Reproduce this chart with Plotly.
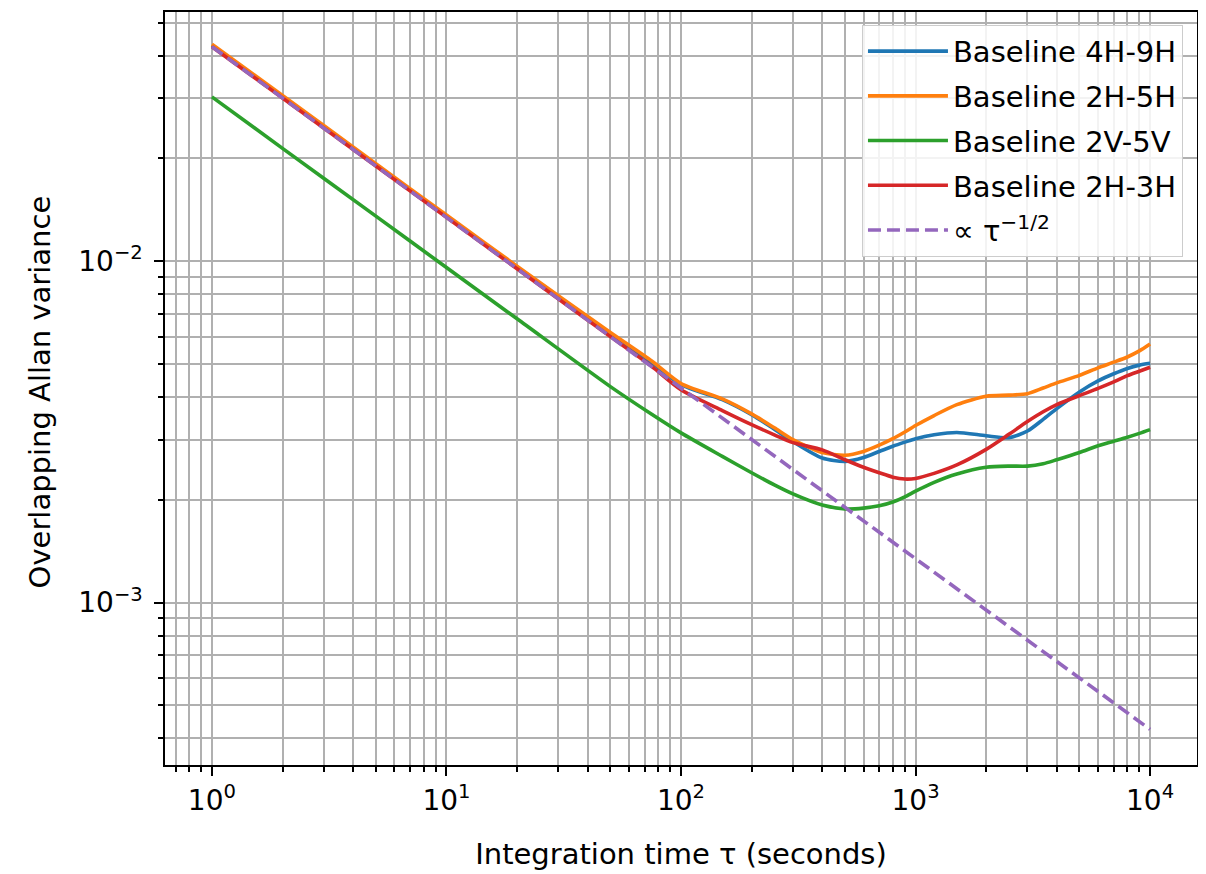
import plotly.graph_objects as go

tau = [1, 2, 5, 10, 20, 50, 75, 100, 150, 200, 250, 300, 400, 500, 600, 700, 800, 900, 1000,
       1200, 1500, 2000, 2500, 3000, 3500, 4000, 5000, 6000, 7000, 8000, 9000, 10000]

blue_4h9h = [0.0428, 0.0303, 0.0191, 0.01355, 0.0096, 0.00612, 0.00505, 0.00435, 0.00393, 0.00355,
             0.00322, 0.00296, 0.00265, 0.00259, 0.00266, 0.00277, 0.00287, 0.00295, 0.00302,
             0.00310, 0.00315, 0.00308, 0.00304, 0.00318, 0.00344, 0.00370, 0.00414, 0.00446,
             0.00468, 0.00485, 0.00496, 0.00502]

orange_2h5h = [0.0432, 0.0306, 0.0193, 0.01365, 0.00967, 0.00618, 0.00510, 0.00438, 0.00395, 0.00357,
               0.00325, 0.00300, 0.00275, 0.00270, 0.00277, 0.00289, 0.00302, 0.00316, 0.00330,
               0.00353, 0.00380, 0.00402, 0.00405, 0.00409, 0.00425, 0.00440, 0.00463, 0.00487,
               0.00506, 0.00524, 0.00546, 0.00572]

green_2v5v = [0.0303, 0.0214, 0.01355, 0.00958, 0.00678, 0.00429, 0.00356, 0.00314, 0.00268, 0.00240,
              0.00221, 0.00208, 0.00193, 0.00188, 0.00189, 0.00192, 0.00197, 0.00204, 0.00212,
              0.00225, 0.00238, 0.00249, 0.00251, 0.00251, 0.00255, 0.00262, 0.00275, 0.00288,
              0.00297, 0.00305, 0.00313, 0.00321]

red_2h3h = [0.0425, 0.03005, 0.0190, 0.01344, 0.0095, 0.00601, 0.00492, 0.00420, 0.00365, 0.00332,
            0.00310, 0.00294, 0.00280, 0.00262, 0.00249, 0.00240, 0.00233, 0.00230, 0.00231,
            0.00239, 0.00253, 0.00281, 0.00311, 0.00339, 0.00362, 0.00380, 0.00404, 0.00424,
            0.00443, 0.00462, 0.00476, 0.00489]

ref_tau = [1, 10000]
ref_vals = [0.0425, 0.000425]

series = [
    ("Baseline 4H-9H", blue_4h9h, "#1f77b4"),
    ("Baseline 2H-5H", orange_2h5h, "#ff7f0e"),
    ("Baseline 2V-5V", green_2v5v, "#2ca02c"),
    ("Baseline 2H-3H", red_2h3h, "#d62728"),
]

x_major = [1, 10, 100, 1000, 10000]
x_major_text = ["10<sup>0</sup>", "10<sup>1</sup>", "10<sup>2</sup>", "10<sup>3</sup>", "10<sup>4</sup>"]
x_minor = [0.7, 0.8, 0.9] + [m * 10 ** d for d in range(0, 4) for m in range(2, 10)]
y_major = [0.001, 0.01]
y_major_text = ["10<sup>\u22123</sup>\u2009", "10<sup>\u22122</sup>\u2009"]
y_minor = [m * 1e-4 for m in range(4, 10)] + [m * 1e-3 for m in range(2, 10)] + [m * 1e-2 for m in range(2, 6)]

fig = go.Figure()
for i, (name, vals, color) in enumerate(series):
    fig.add_trace(go.Scatter(x=tau, y=vals, mode="lines", name=name, legendgroup=f"g{i}",
                             line=dict(color=color, width=3.6, shape="spline", smoothing=0.7)))
fig.add_trace(go.Scatter(x=ref_tau, y=ref_vals, mode="lines", name="\u221d \u03c4<sup>\u22121/2</sup>",
                         legendgroup="g4",
                         line=dict(color="#9467bd", width=3.6, dash="13px,6px")))

font = "DejaVu Sans, Arial, sans-serif"
grid = "#b0b0b0"
fig.update_layout(
    width=1206, height=874,
    paper_bgcolor="white", plot_bgcolor="white",
    margin=dict(l=157, r=17, t=2, b=117),
    font=dict(family=font, size=28, color="black"),
    showlegend=True,
    legend=dict(x=0.9864, y=0.983, xanchor="right", yanchor="top",
                bgcolor="rgba(255,255,255,0.85)", bordercolor="#cccccc", borderwidth=1,
                font=dict(size=29), itemwidth=80, tracegroupgap=4),
    annotations=[dict(text="Overlapping Allan variance", textangle=-90,
                      xref="paper", yref="paper", x=-0.121, y=0.495,
                      xanchor="center", yanchor="middle", showarrow=False,
                      font=dict(size=29))],
)
fig.update_xaxes(
    type="log", range=[-0.2, 4.2],
    tickmode="array", tickvals=x_major, ticktext=x_major_text,
    ticks="outside", ticklen=9, tickwidth=2, tickcolor="black",
    showline=True, linecolor="black", linewidth=2, mirror=True,
    showgrid=True, gridcolor=grid, gridwidth=2, zeroline=False,
    minor=dict(tickmode="array", tickvals=x_minor, ticks="outside", ticklen=5, tickwidth=1.5,
               tickcolor="black", showgrid=True, gridcolor=grid, gridwidth=2),
    title=dict(text="Integration time \u03c4 (seconds)", font=dict(size=29), standoff=28),
    tickfont=dict(size=28),
)
fig.update_yaxes(
    type="log", range=[-3.476, -1.27],
    tickmode="array", tickvals=y_major, ticktext=y_major_text,
    ticks="outside", ticklen=9, tickwidth=2, tickcolor="black",
    showline=True, linecolor="black", linewidth=2, mirror=True,
    showgrid=True, gridcolor=grid, gridwidth=2, zeroline=False,
    minor=dict(tickmode="array", tickvals=y_minor, ticks="outside", ticklen=5, tickwidth=1.5,
               tickcolor="black", showgrid=True, gridcolor=grid, gridwidth=2),
    tickfont=dict(size=28),
)

fig.write_html("out.html")
